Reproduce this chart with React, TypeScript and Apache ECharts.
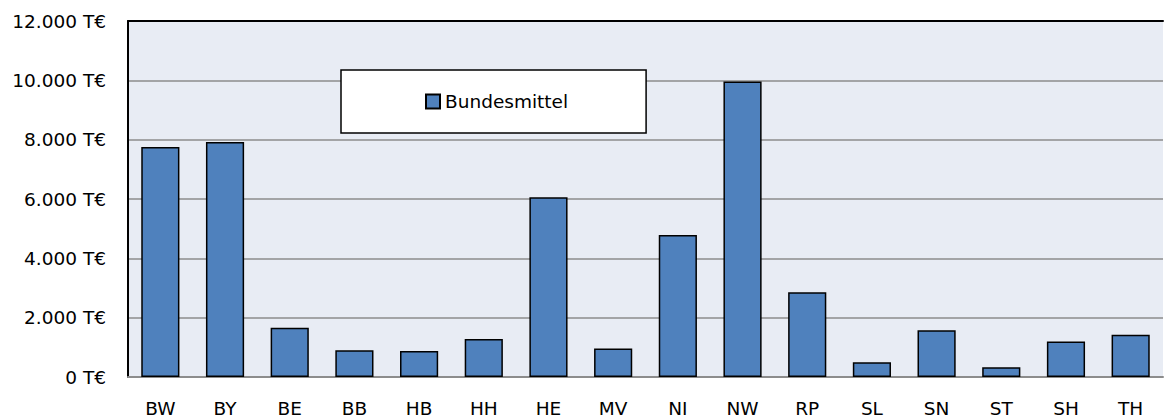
import React, { useEffect, useRef } from "react";
import * as echarts from "echarts";

const categories = ["BW", "BY", "BE", "BB", "HB", "HH", "HE", "MV", "NI", "NW", "RP", "SL", "SN", "ST", "SH", "TH"];
const bundesmittel = [7750, 7920, 1660, 905, 880, 1280, 6060, 960, 4790, 9960, 2860, 500, 1580, 330, 1200, 1420];
const seriesName = "Bundesmittel";

function fmt(v: number): string {
  return v.toLocaleString("de-DE") + " T€";
}

export default function App() {
  const ref = useRef<HTMLDivElement>(null);
  useEffect(() => {
    if (!ref.current) return;
    const chart = echarts.init(ref.current, undefined, { renderer: "svg" });
    const font = "'DejaVu Sans', sans-serif";
    chart.setOption({
      animation: false,
      textStyle: { fontFamily: font },
      grid: {
        left: 128,
        right: 2,
        top: 21,
        bottom: 41,
        show: true,
        backgroundColor: "#E8ECF4",
        borderWidth: 0,
      },
      legend: {
        data: [seriesName],
        left: 341,
        top: 70,
        padding: [22, 78, 22, 84],
        backgroundColor: "#ffffff",
        borderColor: "#000000",
        borderWidth: 1.5,
        borderRadius: 0,
        itemWidth: 14,
        itemHeight: 14,
        itemGap: 5,
        icon: "rect",
        textStyle: { fontFamily: font, fontSize: 18.5, color: "#000" },
      },
      xAxis: [
        {
          type: "category",
          data: categories,
          axisLine: { show: true, lineStyle: { color: "#8c8c8c", width: 2 } },
          axisTick: { show: false },
          axisLabel: { color: "#000", fontSize: 18.5, fontFamily: font, margin: 22 },
        },
        {
          type: "category",
          position: "top",
          data: categories,
          axisLine: { show: true, lineStyle: { color: "#000", width: 2 } },
          axisTick: { show: false },
          axisLabel: { show: false },
        },
      ],
      yAxis: {
        type: "value",
        min: 0,
        max: 12000,
        interval: 2000,
        axisLine: { show: true, lineStyle: { color: "#000", width: 2 } },
        axisTick: { show: false },
        splitLine: { show: true, lineStyle: { color: "#8c8c8c", width: 1.5 } },
        axisLabel: {
          color: "#000",
          fontSize: 18.5,
          fontFamily: font,
          margin: 22,
          formatter: (v: number) => fmt(v),
        },
      },
      series: [
        {
          name: seriesName,
          type: "bar",
          data: bundesmittel,
          barCategoryGap: "41%",
          itemStyle: { color: "#4F81BD", borderColor: "#000", borderWidth: 1.5 },
        },
      ],
    });
    return () => chart.dispose();
  }, []);
  return (
    <div
      ref={ref}
      style={{ position: "absolute", left: 0, top: 0, width: 1165, height: 418 }}
    />
  );
}
